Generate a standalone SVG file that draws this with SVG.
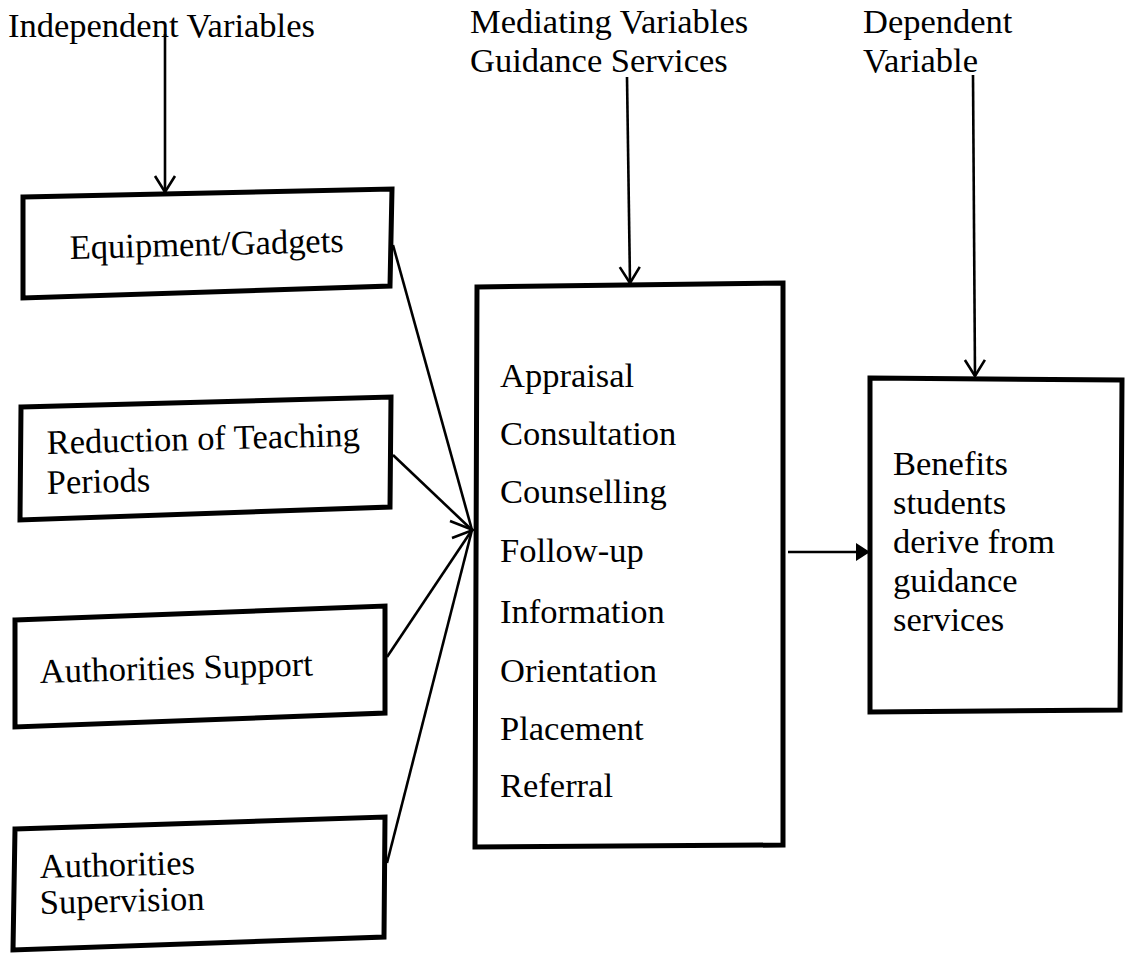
<svg xmlns="http://www.w3.org/2000/svg" width="1128" height="953" viewBox="0 0 1128 953">
  <style>
    .box { fill: #fff; stroke: #000; stroke-width: 5; stroke-linejoin: miter; }
    .t { font-family: "Liberation Serif", "Times New Roman", serif; font-size: 34.5px; fill: #000; }
    .ln { fill: none; stroke: #000; stroke-width: 2.6; }
  </style>
  <defs>
    <marker id="openArrow" viewBox="-2 -2 24 24" refX="18" refY="10" markerWidth="24" markerHeight="24" markerUnits="userSpaceOnUse" orient="auto" overflow="visible">
      <path d="M2,0 L18,10 L2,20" fill="none" stroke="#000" stroke-width="2.6"/>
    </marker>
    <marker id="solidArrow" viewBox="0 0 14 18" refX="13" refY="9" markerWidth="14" markerHeight="18" markerUnits="userSpaceOnUse" orient="auto">
      <path d="M0,0 L14,9 L0,18 Z" fill="#000"/>
    </marker>
  </defs>
  <rect width="1128" height="953" fill="#fff"/>

  <g id="label-independent">
    <text class="t" x="8" y="37">Independent Variables</text>
  </g>
  <g id="label-mediating">
    <text class="t" x="470" y="33">Mediating Variables</text>
    <text class="t" x="470" y="72">Guidance Services</text>
  </g>
  <g id="label-dependent">
    <text class="t" x="863" y="33">Dependent</text>
    <text class="t" x="863" y="72">Variable</text>
  </g>

  <g id="node-equipment">
    <polygon class="box" points="23,197 392,189 390,286 23,298"/>
    <text class="t" x="70" y="259" transform="rotate(-1.5 70 259)">Equipment/Gadgets</text>
  </g>
  <g id="node-reduction">
    <polygon class="box" points="21,407 391,397 390,507 20,520"/>
    <text class="t" x="47" y="454" transform="rotate(-1.5 47 454)">Reduction of Teaching</text>
    <text class="t" x="47" y="494" transform="rotate(-1.5 47 494)">Periods</text>
  </g>
  <g id="node-support">
    <polygon class="box" points="15,620 385,606 385,713 15,727"/>
    <text class="t" x="40" y="683" transform="rotate(-1.6 40 683)">Authorities Support</text>
  </g>
  <g id="node-supervision">
    <polygon class="box" points="15,829 385,817 384,937 13,950"/>
    <text class="t" x="40" y="878" transform="rotate(-1.5 40 878)">Authorities</text>
    <text class="t" x="40" y="914" transform="rotate(-1.5 40 914)">Supervision</text>
  </g>

  <g id="node-guidance">
    <polygon class="box" points="477,287 783,283 783,845 475,847"/>
    <text class="t" x="500" y="387">Appraisal</text>
    <text class="t" x="500" y="445">Consultation</text>
    <text class="t" x="500" y="503">Counselling</text>
    <text class="t" x="500" y="562">Follow-up</text>
    <text class="t" x="500" y="623">Information</text>
    <text class="t" x="500" y="682">Orientation</text>
    <text class="t" x="500" y="740">Placement</text>
    <text class="t" x="500" y="797">Referral</text>
  </g>

  <g id="node-benefits">
    <polygon class="box" points="870,378 1122,380 1120,710 870,712"/>
    <text class="t" x="893" y="475">Benefits</text>
    <text class="t" x="893" y="514">students</text>
    <text class="t" x="893" y="553">derive from</text>
    <text class="t" x="893" y="592">guidance</text>
    <text class="t" x="893" y="631">services</text>
  </g>

  <g id="connectors">
    <line class="ln" x1="165" y1="34" x2="165" y2="192" marker-end="url(#openArrow)"/>
    <line class="ln" x1="627" y1="77" x2="630" y2="283" marker-end="url(#openArrow)"/>
    <line class="ln" x1="973" y1="75" x2="975" y2="376" marker-end="url(#openArrow)"/>

    <line class="ln" x1="393" y1="245" x2="472" y2="530"/>
    <line class="ln" x1="393" y1="455" x2="472" y2="530"/>
    <line class="ln" x1="387" y1="657" x2="472" y2="530"/>
    <line class="ln" x1="387" y1="863" x2="472" y2="530"/>
    <polyline class="ln" points="450,521 473,530 452,538"/>

    <line class="ln" x1="788" y1="552" x2="869" y2="552" marker-end="url(#solidArrow)"/>
  </g>
</svg>
